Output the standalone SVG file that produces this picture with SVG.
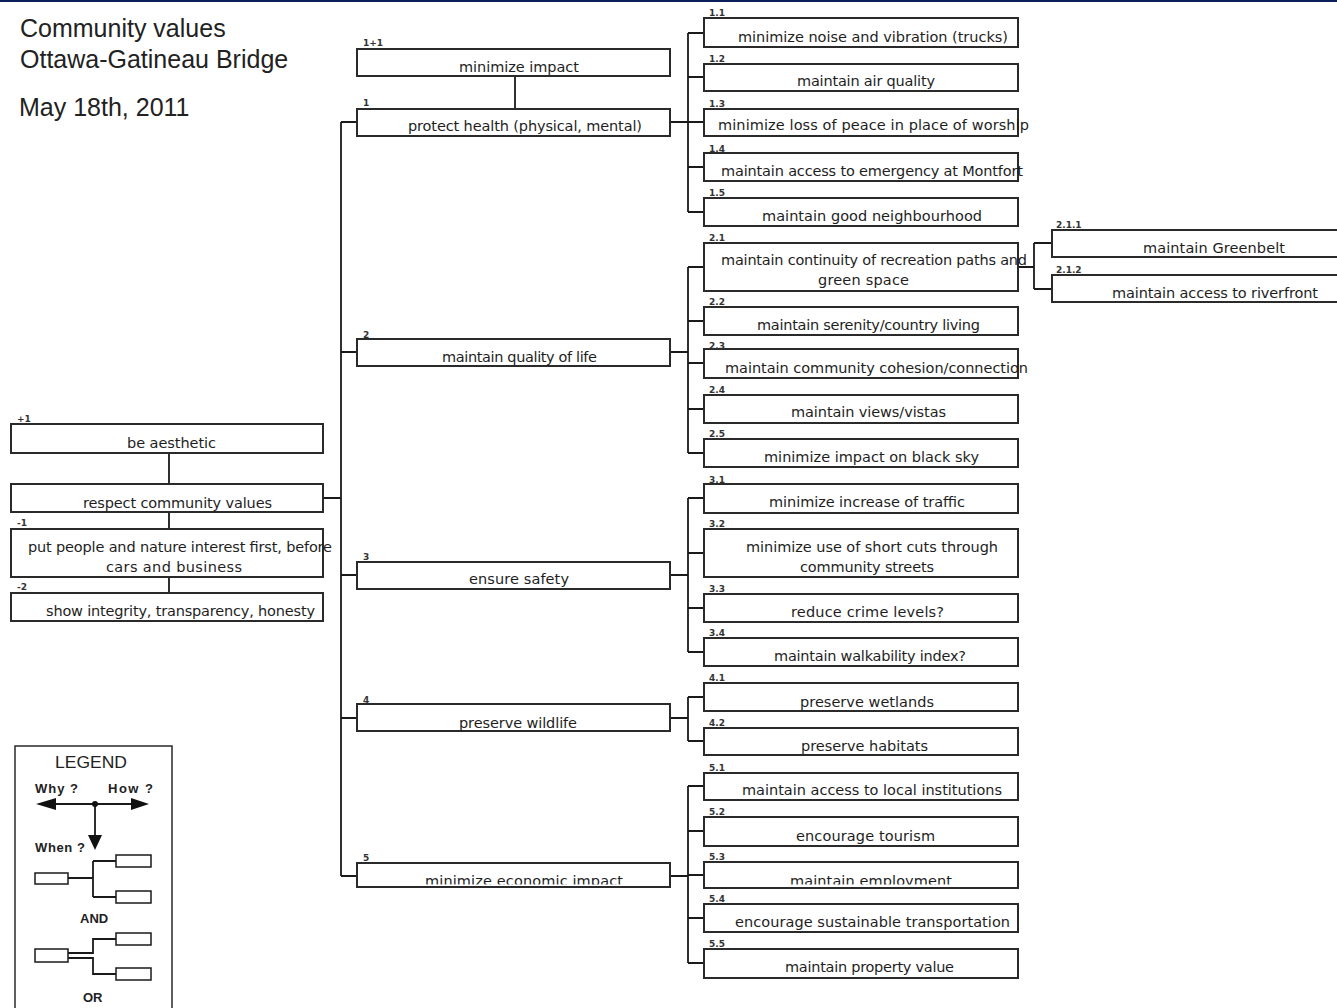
<svg xmlns="http://www.w3.org/2000/svg" width="1337" height="1008" viewBox="0 0 1337 1008">
<style>
.box{fill:#fff;stroke:#2a2a2a;stroke-width:2}
.t{font-family:"DejaVu Sans",Verdana,sans-serif;font-size:14.5px;fill:#1e1e1e}
.lb{font-family:"DejaVu Sans",Verdana,sans-serif;font-size:9px;font-weight:bold;fill:#333}
.title{font-family:"Liberation Sans",Arial,sans-serif;font-size:25px;fill:#222}
.lg{font-family:"Liberation Sans",Arial,sans-serif;font-size:13px;font-weight:bold;fill:#222}
.c{fill:none;stroke:#1a1a1a;stroke-width:1.8}
.sb{fill:#fff;stroke:#1a1a1a;stroke-width:1.5}
</style>
<defs>
<clipPath id="clipEco"><rect x="358" y="864" width="311" height="20.5"/></clipPath>
<clipPath id="clipEmp"><rect x="705" y="863" width="312" height="21.5"/></clipPath>
</defs>
<rect x="0" y="0" width="1337" height="2" fill="#0b1d5a"/>
<g id="title">
<text class="title" x="20" y="37">Community values</text>
<text class="title" x="20" y="68">Ottawa-Gatineau Bridge</text>
<text class="title" x="19" y="116">May 18th, 2011</text>
</g>
<g id="connectors">
<path class="c" d="M515 76V109"/>
<path class="c" d="M341 122V876M341 122H357M341 352H357M341 575H357M341 718H357M341 876H357M323 498H341"/>
<path class="c" d="M169 453V484M169 512V529M169 577V593"/>
<path class="c" d="M670 122H688M688 33V212M688 33H704M688 77H704M688 122H704M688 167H704M688 212H704"/>
<path class="c" d="M670 352H688M688 267V453M688 267H704M688 321H704M688 363H704M688 409H704M688 453H704"/>
<path class="c" d="M1018 267H1034M1034 243V289M1034 243H1052M1034 289H1052"/>
<path class="c" d="M670 575H688M688 498V652M688 498H704M688 553H704M688 608H704M688 652H704"/>
<path class="c" d="M670 718H688M688 697V741M688 697H704M688 741H704"/>
<path class="c" d="M670 876H688M688 786V963M688 786H704M688 831H704M688 875H704M688 918H704M688 963H704"/>
</g>
<g id="n-minimize-impact"><rect class="box" x="357" y="49" width="313" height="27"/><text class="lb" x="363" y="46">1+1</text><text class="t" x="459" y="72" textLength="120">minimize impact</text></g>
<g id="n1"><rect class="box" x="357" y="109" width="313" height="27"/><text class="lb" x="363" y="106">1</text><text class="t" x="408" y="131" textLength="234">protect health (physical, mental)</text></g>
<g id="n2"><rect class="box" x="357" y="339" width="313" height="27"/><text class="lb" x="363" y="338">2</text><text class="t" x="442" y="362" textLength="155">maintain quality of life</text></g>
<g id="n3"><rect class="box" x="357" y="562" width="313" height="27"/><text class="lb" x="363" y="560">3</text><text class="t" x="469" y="584" textLength="100">ensure safety</text></g>
<g id="n4"><rect class="box" x="357" y="704" width="313" height="27"/><text class="lb" x="363" y="703">4</text><text class="t" x="459" y="728" textLength="118">preserve wildlife</text></g>
<g id="n5"><rect class="box" x="357" y="863" width="313" height="24"/><text class="lb" x="363" y="861">5</text><text class="t" x="425" y="886" textLength="198" clip-path="url(#clipEco)">minimize economic impact</text></g>
<g id="n-aesthetic"><rect class="box" x="11" y="424" width="312" height="29"/><text class="lb" x="17" y="422">+1</text><text class="t" x="127" y="448" textLength="89">be aesthetic</text></g>
<g id="n-respect"><rect class="box" x="11" y="484" width="312" height="28"/><text class="t" x="83" y="508" textLength="189">respect community values</text></g>
<g id="n-people"><rect class="box" x="11" y="529" width="312" height="48"/><text class="lb" x="17" y="526">-1</text><text class="t" x="28" y="552" textLength="304">put people and nature interest first, before</text><text class="t" x="106" y="572" textLength="136">cars and business</text></g>
<g id="n-integrity"><rect class="box" x="11" y="593" width="312" height="28"/><text class="lb" x="17" y="590">-2</text><text class="t" x="46" y="616" textLength="269">show integrity, transparency, honesty</text></g>
<g id="n1-1"><rect class="box" x="704" y="18" width="314" height="29"/><text class="lb" x="709" y="16">1.1</text><text class="t" x="738" y="42" textLength="270">minimize noise and vibration (trucks)</text></g>
<g id="n1-2"><rect class="box" x="704" y="64" width="314" height="27"/><text class="lb" x="709" y="62">1.2</text><text class="t" x="797" y="86" textLength="138">maintain air quality</text></g>
<g id="n1-3"><rect class="box" x="704" y="109" width="314" height="27"/><text class="lb" x="709" y="107">1.3</text><text class="t" x="718" y="130" textLength="311">minimize loss of peace in place of worship</text></g>
<g id="n1-4"><rect class="box" x="704" y="153" width="314" height="28"/><text class="lb" x="709" y="152">1.4</text><text class="t" x="721" y="176" textLength="302">maintain access to emergency at Montfort</text></g>
<g id="n1-5"><rect class="box" x="704" y="198" width="314" height="28"/><text class="lb" x="709" y="196">1.5</text><text class="t" x="762" y="221" textLength="220">maintain good neighbourhood</text></g>
<g id="n2-1"><rect class="box" x="704" y="243" width="314" height="48"/><text class="lb" x="709" y="241">2.1</text><text class="t" x="721" y="265" textLength="306">maintain continuity of recreation paths and</text><text class="t" x="818" y="285" textLength="91">green space</text></g>
<g id="n2-1-1"><rect class="box" x="1052" y="230" width="300" height="27"/><text class="lb" x="1056" y="228">2.1.1</text><text class="t" x="1143" y="253" textLength="142">maintain Greenbelt</text></g>
<g id="n2-1-2"><rect class="box" x="1052" y="275" width="300" height="27"/><text class="lb" x="1056" y="273">2.1.2</text><text class="t" x="1112" y="298" textLength="206">maintain access to riverfront</text></g>
<g id="n2-2"><rect class="box" x="704" y="307" width="314" height="28"/><text class="lb" x="709" y="305">2.2</text><text class="t" x="757" y="330" textLength="223">maintain serenity/country living</text></g>
<g id="n2-3"><rect class="box" x="704" y="349" width="314" height="29"/><text class="lb" x="709" y="349">2.3</text><text class="t" x="725" y="373" textLength="303">maintain community cohesion/connection</text></g>
<g id="n2-4"><rect class="box" x="704" y="395" width="314" height="28"/><text class="lb" x="709" y="393">2.4</text><text class="t" x="791" y="417" textLength="155">maintain views/vistas</text></g>
<g id="n2-5"><rect class="box" x="704" y="439" width="314" height="28"/><text class="lb" x="709" y="437">2.5</text><text class="t" x="764" y="462" textLength="215">minimize impact on black sky</text></g>
<g id="n3-1"><rect class="box" x="704" y="484" width="314" height="29"/><text class="lb" x="709" y="483">3.1</text><text class="t" x="769" y="507" textLength="196">minimize increase of traffic</text></g>
<g id="n3-2"><rect class="box" x="704" y="529" width="314" height="48"/><text class="lb" x="709" y="527">3.2</text><text class="t" x="746" y="552" textLength="252">minimize use of short cuts through</text><text class="t" x="800" y="572" textLength="134">community streets</text></g>
<g id="n3-3"><rect class="box" x="704" y="594" width="314" height="28"/><text class="lb" x="709" y="592">3.3</text><text class="t" x="791" y="617" textLength="153">reduce crime levels?</text></g>
<g id="n3-4"><rect class="box" x="704" y="638" width="314" height="28"/><text class="lb" x="709" y="636">3.4</text><text class="t" x="774" y="661" textLength="192">maintain walkability index?</text></g>
<g id="n4-1"><rect class="box" x="704" y="683" width="314" height="28"/><text class="lb" x="709" y="681">4.1</text><text class="t" x="800" y="707" textLength="134">preserve wetlands</text></g>
<g id="n4-2"><rect class="box" x="704" y="728" width="314" height="27"/><text class="lb" x="709" y="726">4.2</text><text class="t" x="801" y="751" textLength="127">preserve habitats</text></g>
<g id="n5-1"><rect class="box" x="704" y="773" width="314" height="27"/><text class="lb" x="709" y="771">5.1</text><text class="t" x="742" y="795" textLength="260">maintain access to local institutions</text></g>
<g id="n5-2"><rect class="box" x="704" y="817" width="314" height="29"/><text class="lb" x="709" y="815">5.2</text><text class="t" x="796" y="841" textLength="139">encourage tourism</text></g>
<g id="n5-3"><rect class="box" x="704" y="862" width="314" height="26"/><text class="lb" x="709" y="860">5.3</text><text class="t" x="790" y="886" textLength="162" clip-path="url(#clipEmp)">maintain employment</text></g>
<g id="n5-4"><rect class="box" x="704" y="904" width="314" height="28"/><text class="lb" x="709" y="902">5.4</text><text class="t" x="735" y="927" textLength="275">encourage sustainable transportation</text></g>
<g id="n5-5"><rect class="box" x="704" y="949" width="314" height="29"/><text class="lb" x="709" y="947">5.5</text><text class="t" x="785" y="972" textLength="169">maintain property value</text></g>
<g id="legend">
<rect x="15" y="746" width="157" height="280" fill="#fff" stroke="#2a2a2a" stroke-width="1.5"/>
<text x="55" y="768" font-family="Liberation Sans, Arial, sans-serif" font-size="17" fill="#222" textLength="72" lengthAdjust="spacingAndGlyphs">LEGEND</text>
<text class="lg" x="35" y="793" textLength="43">Why ?</text>
<text class="lg" x="108" y="793" textLength="45">How ?</text>
<path class="c" d="M52 804H135M95 804V838"/>
<polygon points="36,804 56,798 56,810" fill="#111"/>
<polygon points="149,804 131,798 131,810" fill="#111"/>
<circle cx="95" cy="804" r="3" fill="#111"/>
<polygon points="95,850 88,835 102,835" fill="#111"/>
<text class="lg" x="35" y="852" textLength="50">When ?</text>
<rect class="sb" x="35" y="873" width="33" height="11"/>
<rect class="sb" x="116" y="855" width="35" height="12"/>
<rect class="sb" x="116" y="891" width="35" height="12"/>
<path class="c" stroke-width="1.5" d="M68 878H93M93 861V897M93 861H116M93 897H116"/>
<text class="lg" x="80" y="923">AND</text>
<rect class="sb" x="35" y="949" width="33" height="13"/>
<rect class="sb" x="116" y="933" width="35" height="12"/>
<rect class="sb" x="116" y="968" width="35" height="12"/>
<path class="c" stroke-width="1.5" d="M68 953H93V939H116M68 958H93V974H116"/>
<text class="lg" x="83" y="1002">OR</text>
</g>
</svg>
